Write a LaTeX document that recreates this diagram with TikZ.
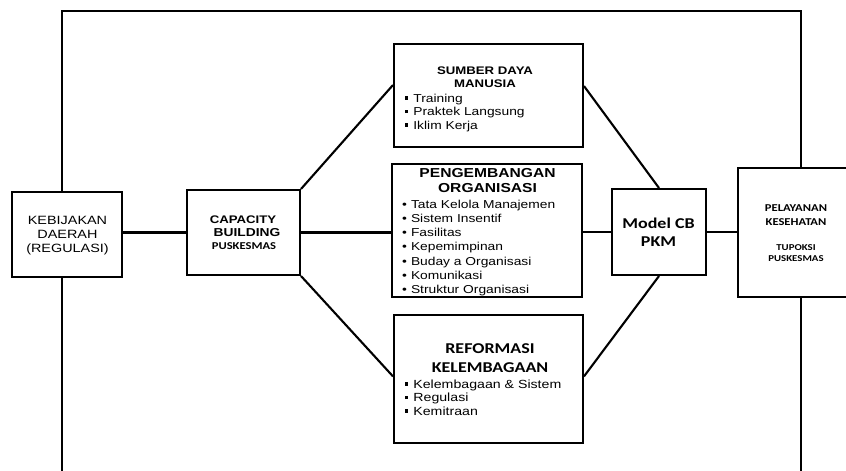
\documentclass[tikz,border=0pt]{standalone}
\usepackage{fontspec}
\setmainfont{Liberation Sans}[FakeStretch=1.2]
\newfontfamily\calfnt{Carlito}[FakeStretch=1.2]
\usetikzlibrary{calc}
\newcommand\sqbul{\rule[2.4pt]{3.2pt}{3.2pt}}
\tikzset{
  box/.style={draw, line width=2pt, inner sep=0pt},
  conn/.style={line width=2.1pt},
  frame/.style={line width=2.6pt},
  fs/.style={font=\fontsize{#1pt}{#1pt}\selectfont},
  fb/.style={font=\fontsize{#1pt}{#1pt}\selectfont\bfseries},
  fc/.style={font=\fontsize{#1pt}{#1pt}\selectfont\calfnt\bfseries},
  lbl/.style={inner sep=0pt, anchor=base},
  lbw/.style={inner sep=0pt, anchor=base west}
}
\begin{document}
\begin{tikzpicture}[x=1pt,y=-1pt]
\useasboundingbox (0,0) rectangle (846,471);
% boxes
\node[box,minimum width=110pt,minimum height=85pt] (keb) at (67,234.5) {};
\node[box,minimum width=113pt,minimum height=85pt] (cap) at (243.5,232.5) {};
\node[box,minimum width=189pt,minimum height=103pt] (sdm) at (488.5,95.5) {};
\node[box,minimum width=190pt,minimum height=133pt] (peng) at (487,230.5) {};
\node[box,minimum width=189pt,minimum height=128pt] (ref) at (488.5,379) {};
\node[box,minimum width=94pt,minimum height=86pt] (mod) at (659,232) {};
\node[box,minimum width=118pt,minimum height=129pt] (pel) at (797,232.5) {};
% frame
\coordinate (tl) at (62,11);
\coordinate (tr) at (801,11);
\coordinate (bl) at (62,476);
\coordinate (br) at (801,476);
\draw[frame] (keb.north -| tl) -- (tl) -- (tr) -- (tr |- pel.north);
\draw[frame] (keb.south -| bl) -- (bl);
\draw[frame] (pel.south -| br) -- (br);
% connectors
\draw[conn] (cap.west) -- (cap.west -| keb.east);
\draw[conn] (cap.north east) -- ($(sdm.north west)!0.4!(sdm.south west)$);
\draw[conn] (cap.east) -- (cap.east -| peng.west);
\draw[conn] (cap.south east) -- ($(ref.north west)!0.48!(ref.south west)$);
\draw[conn] ($(sdm.north east)!0.41!(sdm.south east)$) -- (mod.north);
\draw[conn] (mod.west) -- (mod.west -| peng.east);
\draw[conn] ($(ref.north east)!0.48!(ref.south east)$) -- (mod.south);
\draw[conn] (mod.east) -- (mod.east -| pel.west);
% KEBIJAKAN
\node[lbl,fs=12] (keb1) at (67.5,224.3) {KEBIJAKAN};
\node[lbl,fs=12] (keb2) at (67.5,238.3) {DAERAH};
\node[lbl,fs=12] (keb3) at (67.5,252.3) {(REGULASI)};
% CAPACITY
\node[lbl,fb=11] (cap1) at (243,223) {CAPACITY};
\node[lbl,fb=11.5] (cap2) at (247,236.2) {BUILDING};
\node[lbl,fc=10.5] (cap3) at (244,249.5) {PUSKESMAS};
% SDM
\node[lbl,fb=11] (sdm1) at (485,74) {SUMBER DAYA};
\node[lbl,fb=11] (sdm2) at (485,87) {MANUSIA};
\node[lbw,fs=11.5] (sdm3) at (405,102) {\sqbul\hspace{5pt}Training};
\node[lbw,fs=11.5] (sdm4) at (405,115.5) {\sqbul\hspace{5pt}Praktek Langsung};
\node[lbw,fs=11.5] (sdm5) at (405,129) {\sqbul\hspace{5pt}Iklim Kerja};
% PENGEMBANGAN
\node[lbl,fb=13] (peng1) at (487.5,177.5) {PENGEMBANGAN};
\node[lbl,fb=13] (peng2) at (487.5,192.5) {ORGANISASI};
\node[lbw,fs=11.5] (peng3) at (402,208) {•\hspace{4pt}Tata Kelola Manajemen};
\node[lbw,fs=11.5] (peng4) at (402,222) {•\hspace{4pt}Sistem Insentif};
\node[lbw,fs=11.5] (peng5) at (402,236) {•\hspace{4pt}Fasilitas};
\node[lbw,fs=11.5] (peng6) at (402,250.5) {•\hspace{4pt}Kepemimpinan};
\node[lbw,fs=11.5] (peng7) at (402,265) {•\hspace{4pt}Buday a Organisasi};
\node[lbw,fs=11.5] (peng8) at (402,279) {•\hspace{4pt}Komunikasi};
\node[lbw,fs=11.5] (peng9) at (402,293) {•\hspace{4pt}Struktur Organisasi};
% REFORMASI
\node[lbl,fc=15] (ref1) at (490,353) {REFORMASI};
\node[lbl,fc=15] (ref2) at (490,372) {KELEMBAGAAN};
\node[lbw,fs=11.8] (ref3) at (405,388) {\sqbul\hspace{5pt}Kelembagaan \& Sistem};
\node[lbw,fs=11.8] (ref4) at (405,401.5) {\sqbul\hspace{5pt}Regulasi};
\node[lbw,fs=11.8] (ref5) at (405,415) {\sqbul\hspace{5pt}Kemitraan};
% Model CB
\node[lbl,fc=15] (mod1) at (658.5,228) {Model CB};
\node[lbl,fc=15] (mod2) at (658.5,246) {PKM};
% PELAYANAN
\node[lbl,fc=10.5] (pel1) at (796,211.5) {PELAYANAN};
\node[lbl,fc=10.5] (pel2) at (796,225.5) {KESEHATAN};
\node[lbl,fc=9] (pel3) at (796,250.5) {TUPOKSI};
\node[lbl,fc=9] (pel4) at (796,261.5) {PUSKESMAS};
\end{tikzpicture}
\end{document}
